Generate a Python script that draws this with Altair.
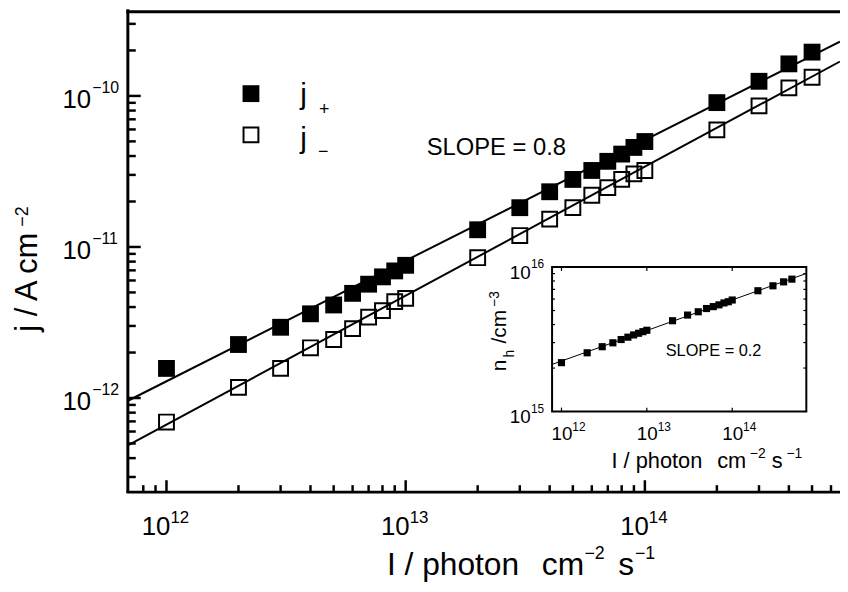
import altair as alt
import pandas as pd

# ---------------- data ----------------
intensity = [1e12, 2e12, 3e12, 4e12, 5e12, 6e12, 7e12, 8e12, 9e12,
             1e13, 2e13, 3e13, 4e13, 5e13, 6e13, 7e13, 8e13, 9e13,
             1e14, 2e14, 3e14, 4e14, 5e14]
j_plus = [1.57e-12, 2.26e-12, 2.94e-12, 3.61e-12, 4.13e-12, 4.93e-12, 5.67e-12, 6.34e-12, 6.94e-12,
          7.56e-12, 1.30e-11, 1.82e-11, 2.32e-11, 2.80e-11, 3.21e-11, 3.69e-11, 4.12e-11, 4.56e-11,
          4.99e-11, 9.03e-11, 1.25e-10, 1.63e-10, 1.95e-10]
j_minus = [6.93e-13, 1.175e-12, 1.57e-12, 2.15e-12, 2.44e-12, 2.88e-12, 3.43e-12, 3.79e-12, 4.35e-12,
           4.57e-12, 8.49e-12, 1.19e-11, 1.53e-11, 1.82e-11, 2.20e-11, 2.47e-11, 2.80e-11, 3.05e-11,
           3.21e-11, 5.96e-11, 8.59e-11, 1.13e-10, 1.33e-10]
n_h = [2.18e15, 2.55e15, 2.81e15, 2.99e15, 3.15e15, 3.27e15, 3.39e15, 3.48e15, 3.57e15,
       3.65e15, 4.25e15, 4.65e15, 4.90e15, 5.16e15, 5.32e15, 5.47e15, 5.64e15, 5.75e15,
       5.91e15, 6.85e15, 7.41e15, 7.89e15, 8.24e15]

fit_I = [6.9e11, 6.54e14]
fit_j_plus = [9.59e-13, 2.29e-10]
fit_j_minus = [4.86e-13, 1.69e-10]

inset_fit_I = [7.76e11, 7.38e14]
inset_fit_n = [2.12e15, 9.02e15]

x_major = [1e12, 1e13, 1e14]
x_exps = ["12", "13", "14"]
x_minor = [8e11, 9e11, 2e12, 3e12, 4e12, 5e12, 6e12, 7e12, 8e12, 9e12,
           2e13, 3e13, 4e13, 5e13, 6e13, 7e13, 8e13, 9e13,
           2e14, 3e14, 4e14, 5e14, 6e14]
y_major = [1e-12, 1e-11, 1e-10]
y_exps = ["\u221212", "\u221211", "\u221210"]
y_minor = [3e-13, 4e-13, 5e-13, 6e-13, 7e-13, 8e-13, 9e-13,
           2e-12, 3e-12, 4e-12, 5e-12, 6e-12, 7e-12, 8e-12, 9e-12,
           2e-11, 3e-11, 4e-11, 5e-11, 6e-11, 7e-11, 8e-11, 9e-11,
           2e-10, 3e-10]

inset_x_major = [1e12, 1e13, 1e14]
inset_x_exps = ["12", "13", "14"]
inset_y_major = [1e15, 1e16]
inset_y_exps = ["15", "16"]
inset_y_minor = [2e15, 3e15, 4e15, 5e15, 6e15, 7e15, 8e15, 9e15]

# ---------------- layout ----------------
FONT = "Liberation Sans"
PAD_L, PAD_T = 121, 0
W, H = 719, 486

def px(xp):  # page -> plot x
    return xp - 8 - PAD_L

def py(yp):
    return yp - 8 - PAD_T

xs = alt.Scale(type="log", domain=[6.895e11, 6.543e14], nice=False)
ys = alt.Scale(type="log", domain=[2.382e-13, 3.664e-10], nice=False)
xi = alt.Scale(type="log", domain=[7.76e11, 7.38e14], nice=False, range=[px(557.3), px(814)])
yi = alt.Scale(type="log", domain=[1e15, 1e16], nice=False, range=[py(412.7), py(266.7)])

one = pd.DataFrame({"k": [0]})

def txt(text, xp, yp, size, align="left", angle=0):
    kw = dict(text=text, align=align, baseline="alphabetic", fontSize=size, font=FONT, color="black")
    if angle:
        kw["angle"] = angle
    return alt.Chart(one).mark_text(**kw).encode(x=alt.value(px(xp)), y=alt.value(py(yp)))

def hrule(x1p, x2p, yp, sw):
    return alt.Chart(one).mark_rule(color="black", strokeWidth=sw).encode(
        x=alt.value(px(x1p)), x2=alt.value(px(x2p)), y=alt.value(py(yp)))

def vrule(xp, y1p, y2p, sw):
    return alt.Chart(one).mark_rule(color="black", strokeWidth=sw).encode(
        x=alt.value(px(xp)), y=alt.value(py(y1p)), y2=alt.value(py(y2p)))

df = pd.DataFrame({"I": intensity, "jp": j_plus, "jm": j_minus, "nh": n_h})
fit_df = pd.DataFrame({"I": fit_I, "jp": fit_j_plus, "jm": fit_j_minus})
ifit_df = pd.DataFrame({"I": inset_fit_I, "nh": inset_fit_n})

X = lambda f: alt.X(f, type="quantitative", scale=xs, axis=None)
Y = lambda f: alt.Y(f, type="quantitative", scale=ys, axis=None)

# ---------------- main panel ----------------
line_p = alt.Chart(fit_df).mark_line(color="black", strokeWidth=2).encode(x=X("I"), y=Y("jp"))
line_m = alt.Chart(fit_df).mark_line(color="black", strokeWidth=2).encode(x=X("I"), y=Y("jm"))
pts_p = alt.Chart(df).mark_point(shape="square", filled=True, size=289, color="black", opacity=1).encode(
    x=X("I"), y=Y("jp"))
pts_m = alt.Chart(df).mark_point(shape="square", filled=False, size=225, color="black",
                                 strokeWidth=2, opacity=1).encode(x=X("I"), y=Y("jm"))

xmaj_df = pd.DataFrame({"v": x_major, "exp": x_exps})
xmin_df = pd.DataFrame({"v": x_minor})
ymaj_df = pd.DataFrame({"v": y_major, "exp": y_exps})
ymin_df = pd.DataFrame({"v": y_minor})

xt_major = alt.Chart(xmaj_df).mark_rule(color="black", strokeWidth=2.5).encode(
    x=X("v"), y=alt.value(H), y2=alt.value(H - 12))
xt_minor = alt.Chart(xmin_df).mark_rule(color="black", strokeWidth=2.5).encode(
    x=X("v"), y=alt.value(H), y2=alt.value(H - 7))
yt_major = alt.Chart(ymaj_df).mark_rule(color="black", strokeWidth=2.5).encode(
    y=Y("v"), x=alt.value(0), x2=alt.value(13))
yt_minor = alt.Chart(ymin_df).mark_rule(color="black", strokeWidth=2.5).encode(
    y=Y("v"), x=alt.value(0), x2=alt.value(8))

xl_base = alt.Chart(xmaj_df).mark_text(align="right", baseline="alphabetic", dx=4, fontSize=26,
                                       font=FONT, color="black", text="10").encode(
    x=X("v"), y=alt.value(py(537)))
xl_exp = alt.Chart(xmaj_df).mark_text(align="left", baseline="alphabetic", dx=4, fontSize=17,
                                      font=FONT, color="black").encode(
    x=X("v"), y=alt.value(py(525)), text="exp:N")
yl_base = alt.Chart(ymaj_df).mark_text(align="right", baseline="alphabetic", dy=12, fontSize=26,
                                       font=FONT, color="black", text="10").encode(
    y=Y("v"), x=alt.value(px(92)))
yl_exp = alt.Chart(ymaj_df).mark_text(align="left", baseline="alphabetic", dy=-3, fontSize=16,
                                      font=FONT, color="black").encode(
    y=Y("v"), x=alt.value(px(93)), text="exp:N")

frame = [
    vrule(129, 6.5, 494, 3),      # left axis
    hrule(127.5, 848, 494, 3),    # bottom axis
    hrule(127.5, 848, 9, 3),      # top border
]

leg_fill = alt.Chart(one).mark_point(shape="square", filled=True, size=289, color="black", opacity=1).encode(
    x=alt.value(px(253.3)), y=alt.value(py(91.7)))
leg_open = alt.Chart(one).mark_point(shape="square", filled=False, size=225, color="black",
                                     strokeWidth=2, opacity=1).encode(
    x=alt.value(px(253.3)), y=alt.value(py(133.3)))

texts = [
    txt("j", 303, 102, 30), txt("+", 322, 113, 18),
    txt("j", 303, 146.5, 30), txt("\u2212", 321, 156, 18),
    txt("SLOPE = 0.8", 430.7, 153.3, 24),
    # y title
    txt("j / A cm", 37, 332, 31, angle=270),
    txt("\u22122", 28, 226, 18, angle=270),
    # x title
    txt("I / photon", 524, 578, 32, align="right"),
    txt("cm", 547, 578, 32),
    txt("\u22122", 590, 562, 18),
    txt("s", 624, 578, 32),
    txt("\u22121", 641, 562, 18),
]

main = alt.layer(line_p, line_m, pts_p, pts_m, xt_major, xt_minor, yt_major, yt_minor,
                 xl_base, xl_exp, yl_base, yl_exp, *frame, leg_fill, leg_open, *texts)

# ---------------- inset ----------------
XI = lambda f: alt.X(f, type="quantitative", scale=xi, axis=None)
YI = lambda f: alt.Y(f, type="quantitative", scale=yi, axis=None)

ibox = alt.Chart(one).mark_rect(fill="white", stroke="black", strokeWidth=2).encode(
    x=alt.value(px(557.3)), x2=alt.value(px(814)), y=alt.value(py(266.7)), y2=alt.value(py(412.7)))
iline = alt.Chart(ifit_df).mark_line(color="black", strokeWidth=1).encode(x=XI("I"), y=YI("nh"))
ipts = alt.Chart(df).mark_point(shape="square", filled=True, size=52, color="black", opacity=1).encode(
    x=XI("I"), y=YI("nh"))

ixmaj_df = pd.DataFrame({"v": inset_x_major, "exp": inset_x_exps})
iymaj_df = pd.DataFrame({"v": inset_y_major, "exp": inset_y_exps})
iymin_df = pd.DataFrame({"v": inset_y_minor})

ixt_b = alt.Chart(ixmaj_df).mark_rule(color="black", strokeWidth=1.2).encode(
    x=XI("v"), y=alt.value(py(412.7)), y2=alt.value(py(408.7)))
ixt_t = alt.Chart(ixmaj_df).mark_rule(color="black", strokeWidth=1.2).encode(
    x=XI("v"), y=alt.value(py(266.7)), y2=alt.value(py(270.7)))
iyt_l = alt.Chart(iymin_df).mark_rule(color="black", strokeWidth=1.2).encode(
    y=YI("v"), x=alt.value(px(557.3)), x2=alt.value(px(560.3)))
iyt_r = alt.Chart(iymin_df).mark_rule(color="black", strokeWidth=1.2).encode(
    y=YI("v"), x=alt.value(px(814)), x2=alt.value(px(811)))

ixl_base = alt.Chart(ixmaj_df).mark_text(align="right", baseline="alphabetic", dx=11, fontSize=19,
                                         font=FONT, color="black", text="10").encode(
    x=XI("v"), y=alt.value(py(441.7)))
ixl_exp = alt.Chart(ixmaj_df).mark_text(align="left", baseline="alphabetic", dx=11, fontSize=12,
                                        font=FONT, color="black").encode(
    x=XI("v"), y=alt.value(py(432.7)), text="exp:N")
iyl_base = alt.Chart(iymaj_df).mark_text(align="right", baseline="alphabetic", dy=12, fontSize=19,
                                         font=FONT, color="black", text="10").encode(
    y=YI("v"), x=alt.value(px(535.7)))
iyl_exp = alt.Chart(iymaj_df).mark_text(align="left", baseline="alphabetic", dy=1, fontSize=12,
                                        font=FONT, color="black").encode(
    y=YI("v"), x=alt.value(px(536)), text="exp:N")

itexts = [
    txt("SLOPE = 0.2", 672, 356.7, 16.5),
    txt("n", 511, 372, 21, angle=270),
    txt("h", 519, 358, 14, angle=270),
    txt("/cm", 511, 344, 21, angle=270),
    txt("\u22123", 504, 307, 14, angle=270),
    txt("I / photon", 709, 470, 22, align="right"),
    txt("cm", 724, 470, 22),
    txt("\u22122", 757, 460, 14),
    txt("s", 779, 470, 22),
    txt("\u22121", 794, 460, 14),
]

inset = alt.layer(ibox, iline, ipts, ixt_b, ixt_t, iyt_l, iyt_r,
                  ixl_base, ixl_exp, iyl_base, iyl_exp, *itexts)

chart = alt.layer(main, inset).resolve_scale(x="independent", y="independent").properties(
    width=W, height=H,
    autosize=alt.AutoSizeParams(type="none"),
    padding={"left": PAD_L, "top": PAD_T, "right": 0, "bottom": 90},
    background="white",
).configure_view(stroke=None)

chart.save("out.html", embed_options={"renderer": "svg", "actions": False})
